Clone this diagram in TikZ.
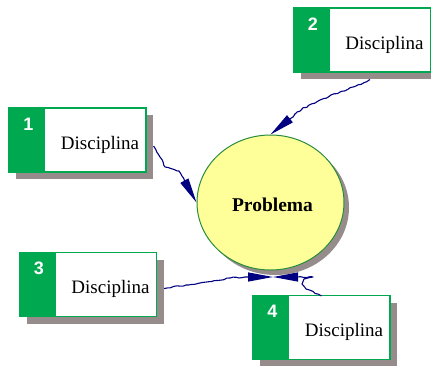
\documentclass[tikz,border=0pt]{standalone}
\usepackage{fontspec}
\setmainfont{Liberation Serif}
\newfontfamily\numfont{Liberation Sans}
\usetikzlibrary{shadows,arrows.meta,shapes.geometric,decorations.pathmorphing}

\definecolor{boxgreen}{RGB}{0,168,80}
\definecolor{rimgreen}{RGB}{40,140,60}
\definecolor{paleyellow}{RGB}{255,255,153}
\definecolor{shadowgray}{RGB}{150,140,140}
\definecolor{linkblue}{RGB}{0,0,128}

\tikzset{
  discbox/.style={draw=boxgreen, line width=1.2pt, fill=white,
    minimum width=137pt, minimum height=64pt, inner sep=0pt,
    drop shadow={shadow xshift=7pt, shadow yshift=-7pt, fill=shadowgray, opacity=1},
    path picture={\fill[boxgreen] (path picture bounding box.north west)
      rectangle ([xshift=36pt]path picture bounding box.south west);}},
  numlabel/.style={text=white, font=\numfont\bfseries\fontsize{18}{18}\selectfont, inner sep=0pt},
  disctext/.style={anchor=base, font=\fontsize{19}{19}\selectfont, inner sep=0pt},
  problem/.style={ellipse, draw=rimgreen, line width=1pt, fill=paleyellow,
    minimum width=147pt, minimum height=135pt, inner sep=0pt,
    drop shadow={shadow xshift=5pt, shadow yshift=-5pt, fill=shadowgray, opacity=1}},
  link/.style={draw=linkblue, line width=1.1pt, line join=round,
    -{Triangle[length=25pt, width=9pt]},
    decorate, decoration={random steps, segment length=3pt, amplitude=0.7pt,
      pre length=1pt, post length=24pt}}
}

\begin{document}
\pgfmathsetseed{7}
\begin{tikzpicture}[x=1pt, y=-1pt]
  \useasboundingbox (0,0) rectangle (431,365);

  % central problem
  \node[problem] (pr) at (270.5,202.5) {};
  \node[anchor=base, font=\bfseries\fontsize{19.5}{19.5}\selectfont, inner sep=0pt]
    (prt) at (272.5,211) {Problema};

  % the four disciplines
  \node[discbox] (b1) at (77.5,140) {};
  \node[discbox] (b2) at (362,40) {};
  \node[discbox] (b3) at (88,284.5) {};
  \node[discbox] (b4) at (321.5,327.5) {};

  \foreach \b/\n in {b1/1, b2/2, b3/3, b4/4} {
    \node[numlabel] (n\n) at ([shift={(-49,-16)}]\b.center) {\n};
    \node[disctext] (t\n) at ([shift={(22.5,9)}]\b.center) {Disciplina};
  }

  % meeting point below the circle
  \coordinate (meet) at (273,277);

  % connectors
  \draw[link] ([shift={(7,6)}]b1.east) -- (160,157) -- (165,167) -- (179,171) -- (pr.west);
  \draw[link] ([shift={(8,7)}]b2.south) -- (356,86) -- (340,92) -- (320,100) -- (302,109) -- (pr.north);
  \draw[link] ([shift={(7,4)}]b3.east) -- (200,283) -- (230,278) -- (245,277) -- (meet);
  \draw[link] ([shift={(0,1)}]b4.north) -- (306,289) -- (302,284) -- (304,279) -- (313,277) -- (meet);
\end{tikzpicture}
\end{document}
